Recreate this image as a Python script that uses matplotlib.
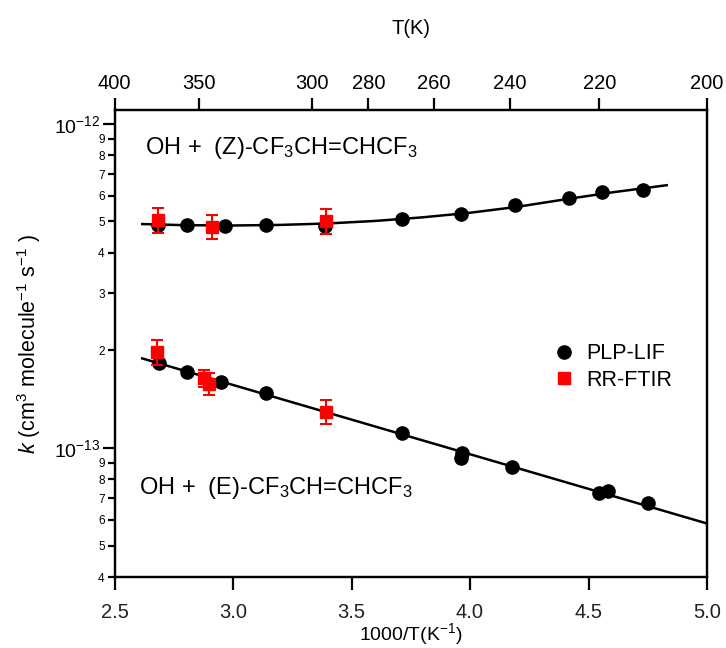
import numpy as np
import matplotlib
matplotlib.use("Agg")
import matplotlib.pyplot as plt
from matplotlib.lines import Line2D
from matplotlib.ticker import FixedLocator, FixedFormatter, NullLocator

plt.rcParams['font.family'] = ['Liberation Sans', 'DejaVu Sans']
plt.rcParams['mathtext.fontset'] = 'custom'
plt.rcParams['mathtext.rm'] = 'Liberation Sans'
plt.rcParams['mathtext.it'] = 'Liberation Sans:italic'
plt.rcParams['mathtext.bf'] = 'Liberation Sans:bold'

# ---- data (x = 1000/T in K^-1, k in cm3 molecule-1 s-1) ----
z_lif_x = [2.682, 2.804, 2.965, 3.141, 3.387, 3.711, 3.964, 4.190, 4.416, 4.557, 4.731]
z_lif_k = [4.88e-13, 4.88e-13, 4.85e-13, 4.88e-13, 4.85e-13, 5.08e-13, 5.28e-13,
           5.62e-13, 5.92e-13, 6.18e-13, 6.27e-13]
z_ftir_x = [2.682, 2.910, 3.391]
z_ftir_k = [5.07e-13, 4.81e-13, 5.03e-13]
z_ftir_err = [0.45e-13, 0.41e-13, 0.45e-13]
z_fit_x = [2.617, 2.8, 3.0, 3.2, 3.4, 3.6, 3.8, 4.0, 4.2, 4.4, 4.6, 4.83]
z_fit_k = [4.91e-13, 4.87e-13, 4.86e-13, 4.88e-13, 4.93e-13, 5.02e-13, 5.15e-13,
           5.32e-13, 5.55e-13, 5.85e-13, 6.15e-13, 6.47e-13]

e_lif_x = [2.687, 2.807, 2.948, 3.141, 3.715, 3.968, 3.961, 4.179, 4.545, 4.581, 4.750]
e_lif_k = [1.825e-13, 1.72e-13, 1.60e-13, 1.475e-13, 1.115e-13, 9.63e-14, 9.29e-14,
           8.72e-14, 7.25e-14, 7.37e-14, 6.75e-14]
e_ftir_x = [2.680, 2.876, 2.900, 3.391]
e_ftir_k = [1.98e-13, 1.64e-13, 1.58e-13, 1.294e-13]
e_ftir_err = [0.17e-13, 0.10e-13, 0.12e-13, 0.11e-13]
e_fit_x = [2.617, 5.0]
e_fit_k = [1.89e-13, 5.85e-14]

top_T = [400, 350, 300, 280, 260, 240, 220, 200]
bottom_ticks = [2.5, 3.0, 3.5, 4.0, 4.5, 5.0]
y_major = [1e-13, 1e-12]
y_major_labels = [r'$\mathregular{10^{-13}}$', r'$\mathregular{10^{-12}}$']
y_minor = [4e-14, 5e-14, 6e-14, 7e-14, 8e-14, 9e-14,
           2e-13, 3e-13, 4e-13, 5e-13, 6e-13, 7e-13, 8e-13, 9e-13]
y_minor_labels = ['4', '5', '6', '7', '8', '9', '2', '3', '4', '5', '6', '7', '8', '9']

# ---- figure ----
fig = plt.figure(figsize=(7.26, 6.48), dpi=100)
L, R, B, T = 114.5 / 726, 707 / 726, 1 - 577 / 648, 1 - 110 / 648
ax = fig.add_axes([L, B, R - L, T - B])
ax.set_yscale('log')
ax.set_xlim(2.5, 5.0)
ax.set_ylim(4e-14, 1.104e-12)

ms = 9.5
ax.plot(z_fit_x, z_fit_k, color='black', lw=1.8, zorder=2)
ax.plot(e_fit_x, e_fit_k, color='black', lw=1.8, zorder=2)
ax.plot(z_lif_x, z_lif_k, 'o', color='black', ms=ms, zorder=3)
ax.plot(e_lif_x, e_lif_k, 'o', color='black', ms=ms, zorder=3)
ax.errorbar(z_ftir_x, z_ftir_k, yerr=z_ftir_err, fmt='s', color='red', ms=ms - 0.5,
            ecolor='red', elinewidth=1.5, capsize=4, capthick=1.5, zorder=4)
ax.errorbar(e_ftir_x, e_ftir_k, yerr=e_ftir_err, fmt='s', color='red', ms=ms - 0.5,
            ecolor='red', elinewidth=1.5, capsize=4, capthick=1.5, zorder=4)

for s in ax.spines.values():
    s.set_linewidth(1.6)

# y axis
ax.yaxis.set_major_locator(FixedLocator(y_major))
ax.yaxis.set_major_formatter(FixedFormatter(y_major_labels))
ax.yaxis.set_minor_locator(FixedLocator(y_minor))
ax.yaxis.set_minor_formatter(FixedFormatter(y_minor_labels))
ax.tick_params(axis='y', which='major', direction='out', length=9, width=1.6,
               labelsize=14, pad=1, right=False)
ax.tick_params(axis='y', which='minor', direction='out', length=5, width=1.6,
               labelsize=8.5, pad=2, right=False)

# bottom x axis
ax.set_xticks(bottom_ticks)
ax.set_xticklabels([f'{v:.1f}' for v in bottom_ticks])
ax.xaxis.set_minor_locator(NullLocator())
ax.tick_params(axis='x', which='major', direction='out', length=9, width=1.6,
               labelsize=14.5, pad=10, top=False, labelcolor='#222222')
ax.set_xlabel(r'1000/T(K$^{-1}$)', fontsize=14, labelpad=-1)
ax.set_ylabel(r'$k$ (cm$^{3}$ molecule$^{-1}$ s$^{-1}$ )', fontsize=15.5, labelpad=8)

# top axis (temperature)
axt = ax.twiny()
axt.set_xlim(ax.get_xlim())
axt.set_xticks([1000.0 / t for t in top_T])
axt.set_xticklabels([str(t) for t in top_T])
axt.xaxis.set_minor_locator(NullLocator())
axt.tick_params(axis='x', direction='out', length=9, width=1.6, labelsize=14.5, pad=3)
axt.set_xlabel('T(K)', fontsize=14.5, labelpad=29)
for s in axt.spines.values():
    s.set_linewidth(1.6)

# annotations
ax.text(0.052, 0.918, r'OH +  (Z)-CF$_3$CH=CHCF$_3$', transform=ax.transAxes,
        fontsize=17, va='center', ha='left')
ax.text(0.042, 0.19, r'OH +  (E)-CF$_3$CH=CHCF$_3$', transform=ax.transAxes,
        fontsize=17, va='center', ha='left')

# legend
h1 = Line2D([], [], marker='o', color='black', ls='none', ms=ms)
h2 = Line2D([], [], marker='s', color='red', ls='none', ms=ms - 0.5)
ax.legend([h1, h2], ['PLP-LIF', 'RR-FTIR'], loc='center left',
          bbox_to_anchor=(0.740, 0.45), frameon=False, fontsize=15.5,
          handlelength=1.0, handletextpad=0.55, labelspacing=0.25,
          borderpad=0, borderaxespad=0)

fig.savefig('out.png', dpi=100)
